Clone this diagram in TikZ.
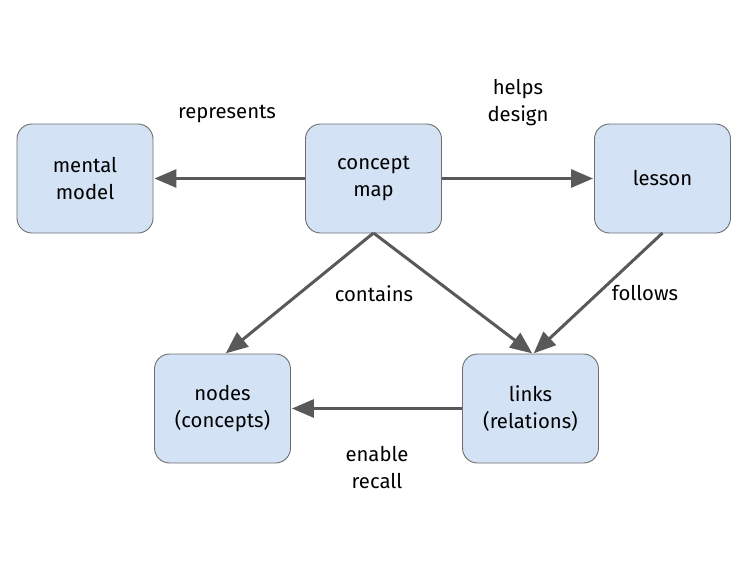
\documentclass[tikz,border=0pt]{standalone}
\usepackage{fontspec}
\setmainfont{Fira Sans}
\usetikzlibrary{arrows.meta}
\definecolor{boxfill}{HTML}{D3E3F5}
\definecolor{boxdraw}{HTML}{6E6E6E}
\definecolor{arr}{HTML}{595959}
\tikzset{
  box/.style={draw=boxdraw, line width=0.9pt, fill=boxfill, rounded corners=15pt,
    minimum width=136pt, minimum height=109pt, inner sep=0pt,
    align=center, font=\fontsize{20.3}{27}\selectfont},
  lbl/.style={align=center, font=\fontsize{20.3}{27}\selectfont, inner sep=0pt},
  conn/.style={draw=arr, line width=3pt, -{Triangle[length=22pt,width=18pt]}, shorten >=1pt}
}
\begin{document}
\begin{tikzpicture}[x=1pt,y=-1pt]
\useasboundingbox (0,0) rectangle (750,563);
\node[box] (mm) at (85,178.5) {mental\\model};
\node[box] (cm) at (373.5,178.5) {concept\\map};
\node[box] (ls) at (662.5,178.5) {lesson};
\node[box] (nd) at (222.5,408.5) {nodes\\(concepts)};
\node[box] (lk) at (530.5,408.5) {links\\(relations)};
\coordinate (cmb) at (373.5,233);
\coordinate (lkt) at (533,354);
\coordinate (ndt) at (225,354);
\coordinate (lsb) at (662.5,233);
\draw[conn] (cm.west) -- (mm.east);
\draw[conn] (cm.east) -- (ls.west);
\draw[conn] (cmb) -- (ndt);
\draw[conn] (cmb) -- (lkt);
\draw[conn] (lsb) -- (lkt);
\draw[conn] (lk.west) -- (nd.east);
\node[lbl] (l1) at (227,114) {represents};
\node[lbl] (l2) at (518,102.5) {helps\\design};
\node[lbl] (l3) at (374,294) {contains};
\node[lbl] (l4) at (645,293) {follows};
\node[lbl] (l5) at (377,468) {enable\\recall};
\end{tikzpicture}
\end{document}
